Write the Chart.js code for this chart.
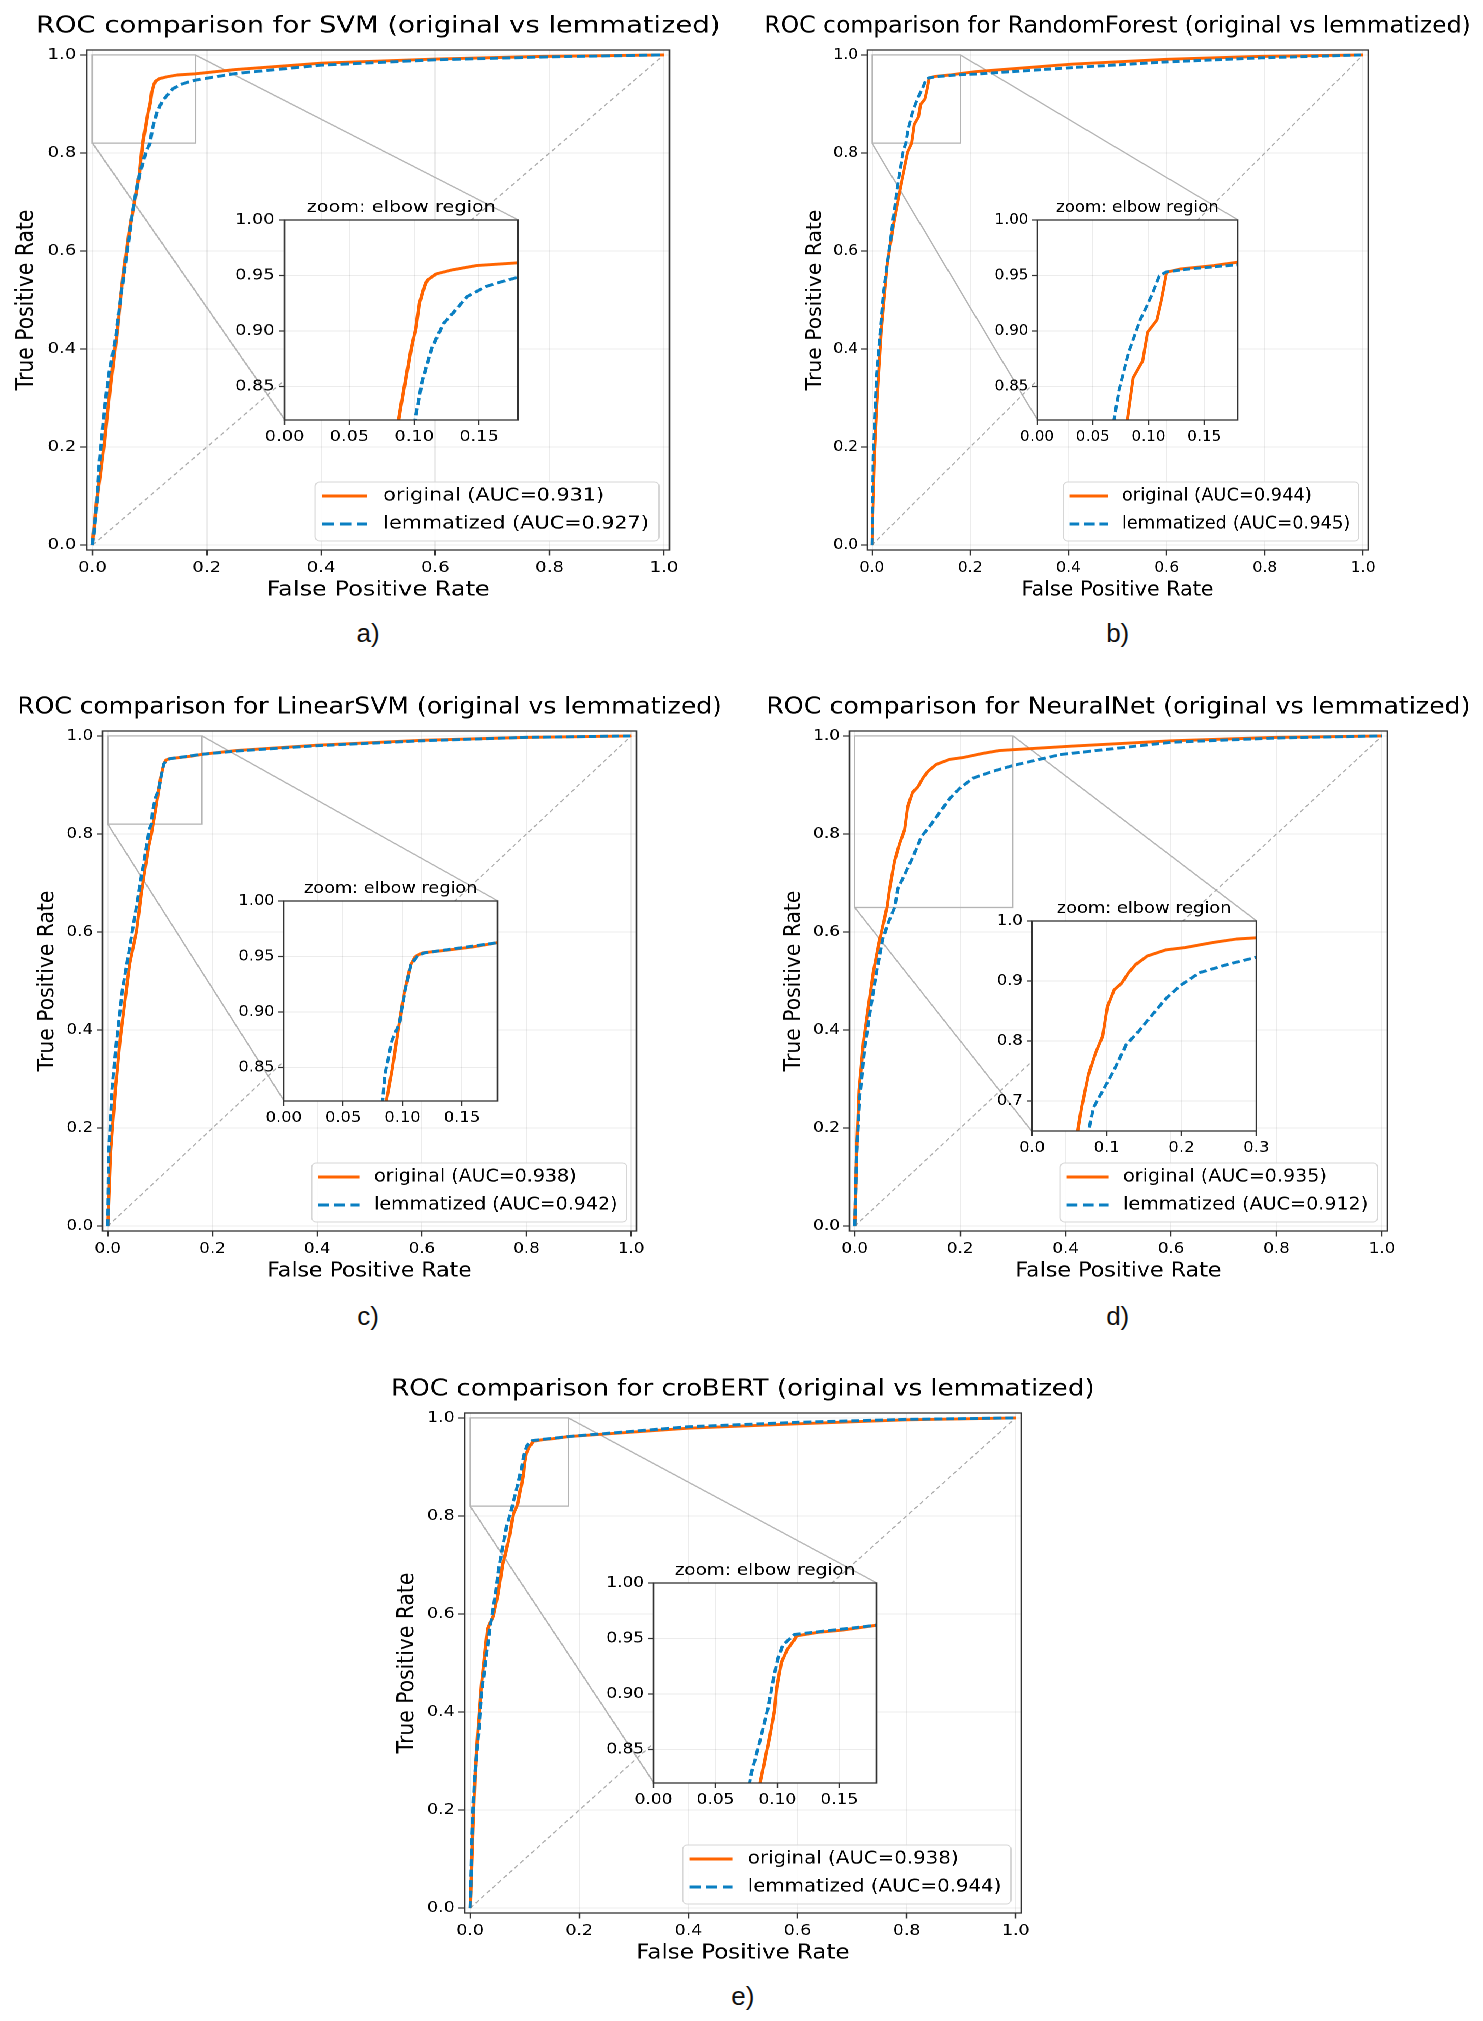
<!DOCTYPE html>
<html>
<head>
<meta charset="utf-8">
<title>ROC comparison (original vs lemmatized)</title>
<script src="https://cdn.jsdelivr.net/npm/chart.js@4.4.1/dist/chart.umd.min.js"></script>
<style>
    html, body { margin: 0; padding: 0; background: #fff; }
    #page { position: relative; width: 1483px; height: 2021px; overflow: hidden; }
    .panel { position: absolute; transform-origin: 0 0; }
    .box { position: absolute; }
    .cap { position: absolute; width: 60px; text-align: center; font: 26px "Liberation Sans", Arial, sans-serif; line-height: 30px; color: #111; }
</style>
</head>
<body>
<div id="page"></div>
<script>
// ---- data (fpr / tpr pairs) ----
const modelNames = ['SVM', 'RandomForest', 'LinearSVM', 'NeuralNet', 'croBERT'];
const aucOriginal = [0.931, 0.944, 0.938, 0.935, 0.938];
const aucLemmatized = [0.927, 0.945, 0.942, 0.912, 0.944];

const svmOrigFpr = [0, 0.004, 0.008, 0.015, 0.021, 0.026, 0.031, 0.036, 0.044, 0.049, 0.054, 0.064, 0.073, 0.082, 0.086, 0.0878, 0.0925, 0.0976, 0.1013, 0.104, 0.1078, 0.110, 0.117, 0.1297, 0.148, 0.18, 0.25, 0.4, 0.6, 0.79, 1];
const svmOrigTpr = [0, 0.05, 0.097, 0.156, 0.21, 0.266, 0.32, 0.367, 0.443, 0.50, 0.553, 0.637, 0.696, 0.755, 0.80, 0.82, 0.8506, 0.884, 0.9029, 0.925, 0.940, 0.9458, 0.9515, 0.9552, 0.959, 0.9615, 0.970, 0.983, 0.9916, 0.997, 1];
const svmLemFpr = [0, 0.0066, 0.0124, 0.0207, 0.029, 0.040, 0.049, 0.059, 0.070, 0.082, 0.093, 0.1006, 0.106, 0.1133, 0.1224, 0.1297, 0.1407, 0.155, 0.166, 0.18, 0.25, 0.4, 0.6, 0.8, 1];
const svmLemTpr = [0, 0.072, 0.173, 0.274, 0.350, 0.418, 0.502, 0.586, 0.679, 0.755, 0.80, 0.82, 0.854, 0.884, 0.9066, 0.916, 0.931, 0.940, 0.944, 0.9485, 0.962, 0.979, 0.990, 0.996, 1];

const rfOrigFpr = [0, 0.002, 0.005, 0.0097, 0.019, 0.031, 0.0435, 0.058, 0.0725, 0.081, 0.0862, 0.0947, 0.099, 0.1075, 0.1118, 0.116, 0.1173, 0.1288, 0.1587, 0.18, 0.213, 0.406, 0.6, 0.793, 1];
const rfOrigTpr = [0, 0.08, 0.181, 0.283, 0.435, 0.570, 0.654, 0.730, 0.8017, 0.82, 0.858, 0.873, 0.899, 0.910, 0.929, 0.9515, 0.9533, 0.956, 0.959, 0.962, 0.966, 0.981, 0.991, 0.997, 1];
const rfLemFpr = [0, 0.001, 0.002, 0.0097, 0.024, 0.0387, 0.05, 0.063, 0.069, 0.0734, 0.082, 0.0925, 0.103, 0.1096, 0.116, 0.137, 0.18, 0.213, 0.406, 0.6, 0.793, 1];
const rfLemTpr = [0, 0.09, 0.181, 0.350, 0.519, 0.629, 0.7215, 0.8017, 0.82, 0.847, 0.8805, 0.910, 0.9328, 0.9496, 0.9533, 0.956, 0.9597, 0.961, 0.974, 0.9857, 0.994, 1];

const linOrigFpr = [0, 0.0054, 0.0145, 0.0235, 0.0325, 0.0416, 0.055, 0.064, 0.0777, 0.0834, 0.0864, 0.0912, 0.0972, 0.1012, 0.107, 0.111, 0.117, 0.139, 0.159, 0.18, 0.245, 0.4, 0.6, 0.8, 1];
const linOrigTpr = [0, 0.149, 0.277, 0.380, 0.457, 0.534, 0.602, 0.679, 0.773, 0.80, 0.82, 0.848, 0.8897, 0.9162, 0.9428, 0.9504, 0.9534, 0.956, 0.9587, 0.9625, 0.970, 0.981, 0.991, 0.997, 1];
const linLemFpr = [0, 0.0018, 0.008, 0.017, 0.028, 0.0416, 0.055, 0.0668, 0.080, 0.0832, 0.0852, 0.0912, 0.0972, 0.1023, 0.107, 0.113, 0.119, 0.18, 0.245, 0.4, 0.6, 0.8, 1];
const linLemTpr = [0, 0.149, 0.277, 0.380, 0.4825, 0.568, 0.654, 0.7305, 0.812, 0.82, 0.8443, 0.8746, 0.8897, 0.920, 0.9428, 0.9511, 0.9534, 0.9625, 0.969, 0.980, 0.990, 0.997, 1];

const nnOrigFpr = [0, 0.0036, 0.008, 0.017, 0.026, 0.035, 0.0458, 0.0611, 0.0662, 0.0756, 0.085, 0.0945, 0.1008, 0.110, 0.1197, 0.129, 0.1387, 0.1544, 0.1796, 0.2048, 0.2426, 0.274, 0.3, 0.41, 0.6, 0.8, 1];
const nnOrigTpr = [0, 0.149, 0.277, 0.380, 0.448, 0.517, 0.577, 0.65, 0.6887, 0.7449, 0.780, 0.808, 0.857, 0.8854, 0.896, 0.9135, 0.9276, 0.9417, 0.952, 0.9557, 0.9642, 0.970, 0.9719, 0.979, 0.990, 0.997, 1];
const nnLemFpr = [0, 0.0036, 0.0099, 0.0189, 0.0305, 0.044, 0.053, 0.064, 0.0756, 0.082, 0.0945, 0.110, 0.126, 0.1418, 0.1607, 0.1796, 0.1985, 0.2237, 0.2616, 0.3, 0.39, 0.6, 0.8, 1];
const nnLemTpr = [0, 0.149, 0.2686, 0.3627, 0.448, 0.534, 0.585, 0.62, 0.65, 0.6887, 0.7168, 0.752, 0.794, 0.815, 0.8433, 0.8714, 0.8925, 0.9136, 0.9276, 0.9396, 0.962, 0.987, 0.9957, 1];

const bertOrigFpr = [0, 0.0043, 0.0087, 0.0147, 0.0208, 0.026, 0.032, 0.0424, 0.051, 0.0597, 0.071, 0.0797, 0.086, 0.089, 0.094, 0.0978, 0.0994, 0.1032, 0.108, 0.1131, 0.1158, 0.133, 0.152, 0.18, 0.4, 0.6, 0.8, 1];
const bertOrigTpr = [0, 0.134, 0.265, 0.3697, 0.4568, 0.509, 0.570, 0.596, 0.640, 0.701, 0.753, 0.8056, 0.82, 0.8358, 0.8629, 0.886, 0.9054, 0.9285, 0.9401, 0.9479, 0.9525, 0.9556, 0.9575, 0.962, 0.979, 0.988, 0.996, 1];
const bertLemFpr = [0, 0.003, 0.008, 0.015, 0.021, 0.029, 0.036, 0.045, 0.0537, 0.0667, 0.0776, 0.0787, 0.0825, 0.0871, 0.0929, 0.0967, 0.1005, 0.1043, 0.11, 0.1139, 0.18, 0.4, 0.6, 0.8, 1];
const bertLemTpr = [0, 0.134, 0.265, 0.352, 0.4394, 0.509, 0.570, 0.631, 0.701, 0.779, 0.82, 0.8281, 0.8436, 0.8629, 0.8899, 0.9131, 0.9324, 0.944, 0.9498, 0.9537, 0.962, 0.982, 0.991, 0.997, 1];

const chanceFpr = [0, 1];
const chanceTpr = [0, 1];

// ticks and zoom windows
const mainTicks = [0, 0.2, 0.4, 0.6, 0.8, 1.0];
const zoomTicksX = [0, 0.05, 0.10, 0.15];
const zoomTicksY = [0.85, 0.90, 0.95, 1.00];
const nnZoomTicksX = [0, 0.1, 0.2, 0.3];
const nnZoomTicksY = [0.7, 0.8, 0.9, 1.0];
const zoomXMax = [0.18, 0.18, 0.18, 0.3, 0.18];
const zoomYMin = [0.82, 0.82, 0.82, 0.65, 0.82];

const origFpr = [svmOrigFpr, rfOrigFpr, linOrigFpr, nnOrigFpr, bertOrigFpr];
const origTpr = [svmOrigTpr, rfOrigTpr, linOrigTpr, nnOrigTpr, bertOrigTpr];
const lemFpr = [svmLemFpr, rfLemFpr, linLemFpr, nnLemFpr, bertLemFpr];
const lemTpr = [svmLemTpr, rfLemTpr, linLemTpr, nnLemTpr, bertLemTpr];

// ---- layout (page px); each panel is drawn at natural size then stretched by k ----
// boxLeft/boxTop = page position of the plot frame's top-left corner
const panelLayout = [
    { boxLeft: 86.4,  boxTop: 49.7,   k: 1.1848, cap: [368, 633],     label: 'a)' },
    { boxLeft: 867,   boxTop: 49.7,   k: 1.0183, cap: [1117.7, 633],  label: 'b)' },
    { boxLeft: 102.4, boxTop: 731,    k: 1.0852, cap: [368, 1316],    label: 'c)' },
    { boxLeft: 849,   boxTop: 731,    k: 1.0933, cap: [1117.7, 1316], label: 'd)' },
    { boxLeft: 464.9, boxTop: 1412.9, k: 1.1311, cap: [742.9, 1996],  label: 'e)' }
];
const insetBoxes = [
    { l: 167.4, t: 170, w: 197, h: 200 },
    { l: 167.4, t: 170, w: 197, h: 200 },
    { l: 167.4, t: 170, w: 197, h: 200 },
    { l: 166.8, t: 190.3, w: 206, h: 210 },
    { l: 167.4, t: 170, w: 197, h: 200 }
];

// natural-size margins: EXTRA leaves room for the long titles
const EXTRA = 40, YAXW = 72, PADT = 46, PADR = 110, XAXH = 58, PADB = 4, BOXW = 492, BOXH = 500;
const IPADL = 52, IPADT = 30, IPADR = 14, IXAXH = 32;

const ORANGE = '#ff6400';
const BLUE = '#0a7fc2';
const DIAG = '#a9a9a9';
const SPINE = '#333333';
const GRID = 'rgba(0,0,0,0.075)';
const FONT = '"DejaVu Sans", sans-serif';

Chart.defaults.font.family = FONT;
Chart.defaults.color = '#000';

function pts(fpr, tpr) {
    return fpr.map((v, i) => ({ x: v, y: tpr[i] }));
}

function rocDatasets(i) {
    return [
        { label: 'lemmatized (AUC=' + aucLemmatized[i].toFixed(3) + ')', data: pts(lemFpr[i], lemTpr[i]),
          borderColor: BLUE, borderWidth: 2.9, borderDash: [7, 3.5], order: 1 },
        { label: 'original (AUC=' + aucOriginal[i].toFixed(3) + ')', data: pts(origFpr[i], origTpr[i]),
          borderColor: ORANGE, borderWidth: 2.9, order: 2 },
        { label: 'chance', data: pts(chanceFpr, chanceTpr),
          borderColor: DIAG, borderWidth: 1.1, borderDash: [4, 3], order: 3 }
    ].map(d => Object.assign({ pointRadius: 0, tension: 0, fill: false, clip: 0, borderJoinStyle: 'round' }, d));
}

function axis(ticksArr, min, max, digits, fontSize, tickLen, pad, extra) {
    return Object.assign({
        type: 'linear', min: min, max: max,
        afterBuildTicks: s => { s.ticks = ticksArr.map(v => ({ value: v })); },
        ticks: { callback: v => Number(v).toFixed(digits), font: { size: fontSize }, color: '#000',
                 padding: pad, autoSkip: false, maxRotation: 0, minRotation: 0 },
        grid: { color: GRID, lineWidth: 1, tickLength: tickLen, tickColor: SPINE, tickWidth: 1.2 },
        border: { display: false }
    }, extra);
}

function drawLegend(chart) {
    const { ctx, chartArea: a } = chart;
    const items = [chart.data.datasets[1], chart.data.datasets[0]];
    ctx.save();
    ctx.font = '17.5px ' + FONT;
    const textW = Math.max(...items.map(d => ctx.measureText(d.label).width));
    const padL = 6, handle = 38, gap = 13.5, padR = 8.5, rowH = 28, h = 59;
    const w = padL + handle + gap + textW + padR;
    const right = a.right - 9, bottom = a.bottom - 9;
    const left = right - w, top = bottom - h;

    ctx.beginPath();
    ctx.roundRect(left, top, w, h, 4);
    ctx.fillStyle = 'rgba(255,255,255,0.85)';
    ctx.fill();
    ctx.strokeStyle = '#d6d6d6';
    ctx.lineWidth = 1;
    ctx.stroke();

    items.forEach((d, j) => {
        const cy = top + 14 + j * rowH;
        ctx.beginPath();
        ctx.setLineDash(d.borderDash ? d.borderDash.map(v => v * 1.4) : []);
        ctx.strokeStyle = d.borderColor;
        ctx.lineWidth = d.borderWidth;
        ctx.moveTo(left + padL, cy);
        ctx.lineTo(left + padL + handle, cy);
        ctx.stroke();
        ctx.setLineDash([]);
        ctx.fillStyle = '#000';
        ctx.textAlign = 'left';
        ctx.textBaseline = 'middle';
        ctx.fillText(d.label, left + padL + handle + gap, cy);
    });
    ctx.restore();
}

// decorations: full frame, title, zoom box + connectors, legend
function makeDecor(cfg) {
    return {
        id: 'rocDecor',
        beforeDraw(chart) {
            if (!cfg.whiteArea) return;
            const { ctx, chartArea: a } = chart;
            ctx.save();
            ctx.fillStyle = '#fff';
            ctx.fillRect(a.left, a.top, a.width, a.height);
            ctx.restore();
        },
        beforeDatasetsDraw(chart) {
            if (!cfg.zoom) return;
            const { ctx, chartArea: a, scales: { x, y } } = chart;
            const z = cfg.zoom, ib = cfg.insetBox;
            const x0 = x.getPixelForValue(z.x[0]), x1 = x.getPixelForValue(z.x[1]);
            const y0 = y.getPixelForValue(z.y[0]), y1 = y.getPixelForValue(z.y[1]);
            ctx.save();
            ctx.strokeStyle = '#b4b4b4';
            ctx.lineWidth = 1.3;
            ctx.strokeRect(x0, y1, x1 - x0, y0 - y1);
            ctx.beginPath();
            ctx.moveTo(x0, y0);
            ctx.lineTo(a.left + ib.l, a.top + ib.t + ib.h);
            ctx.moveTo(x1, y1);
            ctx.lineTo(a.left + ib.l + ib.w, a.top + ib.t);
            ctx.stroke();
            ctx.restore();
        },
        afterDraw(chart) {
            const { ctx, chartArea: a } = chart;
            ctx.save();
            ctx.strokeStyle = SPINE;
            ctx.lineWidth = 1.3;
            ctx.strokeRect(a.left, a.top, a.width, a.height);
            ctx.fillStyle = '#000';
            ctx.font = cfg.titleFont;
            ctx.textAlign = 'center';
            ctx.textBaseline = 'alphabetic';
            ctx.fillText(cfg.title, (a.left + a.right) / 2, a.top - cfg.titleGap);
            ctx.restore();
            if (cfg.legend) drawLegend(chart);
        }
    };
}

function addBox(parent, left, top, w, h) {
    const box = document.createElement('div');
    box.className = 'box';
    box.style.left = left + 'px';
    box.style.top = top + 'px';
    box.style.width = w + 'px';
    box.style.height = h + 'px';
    const c = document.createElement('canvas');
    c.width = w;
    c.height = h;
    box.appendChild(c);
    parent.appendChild(box);
    return c;
}

const page = document.getElementById('page');
const PADL = EXTRA + YAXW;

panelLayout.forEach((p, i) => {
    const wrap = document.createElement('div');
    wrap.className = 'panel';
    wrap.style.left = (p.boxLeft - PADL * p.k) + 'px';
    wrap.style.top = (p.boxTop - PADT) + 'px';
    wrap.style.transform = 'scaleX(' + p.k + ')';
    page.appendChild(wrap);

    const ib = insetBoxes[i];
    const isNN = i === 3;

    // main axes
    const W = PADL + BOXW + PADR, H = PADT + BOXH + XAXH + PADB;
    const mainCanvas = addBox(wrap, 0, 0, W, H);
    new Chart(mainCanvas, {
        type: 'line',
        data: { datasets: rocDatasets(i) },
        options: {
            responsive: false,
            animation: false,
            devicePixelRatio: 2,
            layout: { padding: { top: PADT, right: PADR, bottom: PADB, left: EXTRA } },
            plugins: { legend: { display: false }, tooltip: { enabled: false }, title: { display: false } },
            scales: {
                x: axis(mainTicks, -0.01, 1.01, 1, 15.3, 5.5, 3.3, {
                    afterFit: s => { s.height = XAXH; },
                    title: { display: true, text: 'False Positive Rate', font: { size: 20.3 }, color: '#000',
                             padding: { top: 0, bottom: 5.8 } }
                }),
                y: axis(mainTicks, -0.01, 1.01, 1, 15.3, 5.5, 3.3, {
                    afterFit: s => { s.width = YAXW; },
                    title: { display: true, text: 'True Positive Rate', font: { size: 20.3 }, color: '#000',
                             padding: { top: 8.8, bottom: 0 } }
                })
            }
        },
        plugins: [makeDecor({
            title: 'ROC comparison for ' + modelNames[i] + ' (original vs lemmatized)',
            titleFont: '23.1px ' + FONT, titleGap: 17.4, legend: true,
            zoom: { x: [0, zoomXMax[i]], y: [zoomYMin[i], 1] }, insetBox: ib
        })]
    });

    // inset ("zoom: elbow region")
    const IW = IPADL + ib.w + IPADR, IH = IPADT + ib.h + IXAXH;
    const insetCanvas = addBox(wrap, PADL + ib.l - IPADL, PADT + ib.t - IPADT, IW, IH);
    new Chart(insetCanvas, {
        type: 'line',
        data: { datasets: rocDatasets(i) },
        options: {
            responsive: false,
            animation: false,
            devicePixelRatio: 2,
            layout: { padding: { top: IPADT, right: IPADR, bottom: 0, left: 0 } },
            plugins: { legend: { display: false }, tooltip: { enabled: false }, title: { display: false } },
            scales: {
                x: axis(isNN ? nnZoomTicksX : zoomTicksX, 0, zoomXMax[i], isNN ? 1 : 2, 15, 5, 3, {
                    afterFit: s => { s.height = IXAXH; }
                }),
                y: axis(isNN ? nnZoomTicksY : zoomTicksY, zoomYMin[i], 1, isNN ? 1 : 2, 15, 5, 3.4, {
                    afterFit: s => { s.width = IPADL; }
                })
            }
        },
        plugins: [makeDecor({
            title: 'zoom: elbow region', titleFont: '16.3px ' + FONT, titleGap: 8,
            legend: false, whiteArea: true
        })]
    });

    // caption under the panel
    const cap = document.createElement('div');
    cap.className = 'cap';
    cap.textContent = p.label;
    cap.style.left = (p.cap[0] - 30) + 'px';
    cap.style.top = (p.cap[1] - 15) + 'px';
    page.appendChild(cap);
});
</script>
</body>
</html>
